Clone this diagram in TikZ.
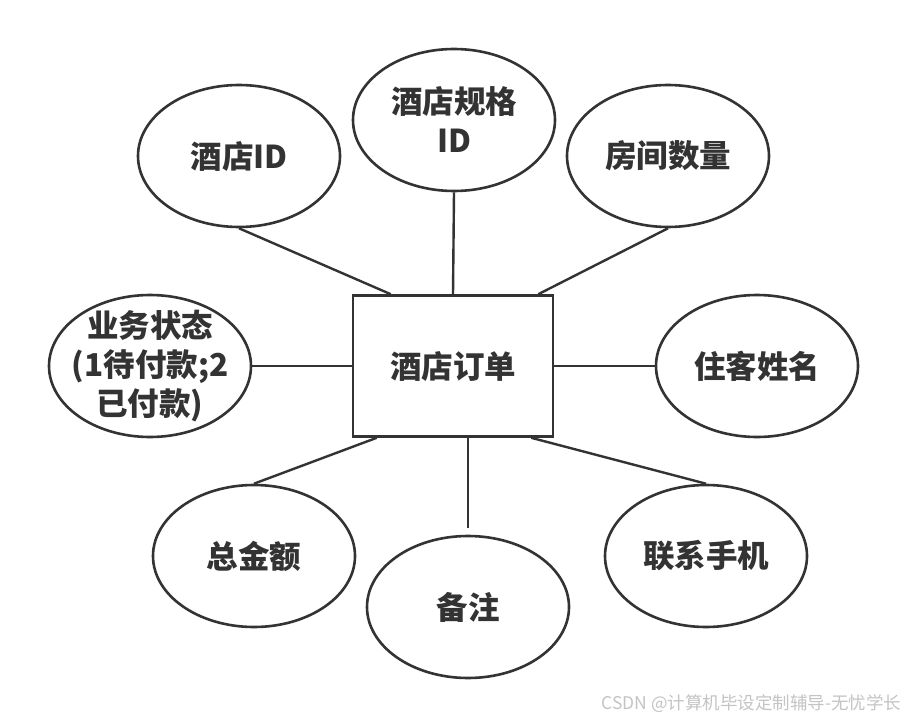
\documentclass[tikz,border=0pt]{standalone}
\usepackage{fontspec}
\newfontfamily\cjk{Noto Sans CJK SC}
\usetikzlibrary{shapes.geometric,positioning}
\definecolor{ink}{HTML}{333333}
\definecolor{mark}{HTML}{C4C4C4}

\begin{document}
\begin{tikzpicture}[
    x=1pt, y=-1pt,
    entity/.style={draw=ink, line width=2.6pt, minimum width=200pt, minimum height=141pt,
                   font=\cjk\bfseries\fontsize{31.5}{39}\selectfont, text=ink, align=center},
    attr/.style={ellipse, draw=ink, line width=2.6pt, minimum width=202pt, minimum height=142pt,
                 inner sep=0pt, font=\cjk\bfseries\fontsize{31.5}{39}\selectfont, text=ink, align=center},
    link/.style={draw=ink, line width=2.4pt}
  ]
    \useasboundingbox[fill=white] (0,0) rectangle (908,728);

    \node[entity] (order) at (453,366) {酒店订单};

    \node[attr] (hid)    at (239,156) {酒店ID};
    \node[attr] (spec)   at (454,120) {酒店规格\\ID};
    \node[attr] (rooms)  at (668,156) {房间数量};
    \node[attr, inner sep=-16pt] (status) at (150,366) {业务状态\\(1待付款;2\\已付款)};
    \node[attr] (guest)  at (757,366) {住客姓名};
    \node[attr] (total)  at (254,556) {总金额};
    \node[attr] (note)   at (468,607) {备注};
    \node[attr] (phone)  at (706,556) {联系手机};

    \draw[link] (hid.south)   -- ([xshift=39pt]order.north west);
    \draw[link] (spec.south)  -- (order.north);
    \draw[link] (rooms.south) -- ([xshift=-16pt]order.north east);
    \draw[link] (status.east) -- (order.west);
    \draw[link] (order.east)  -- (guest.west);
    \draw[link] (total.north) -- ([xshift=25pt]order.south west);
    \draw[link] ([xshift=15pt]order.south) -- ([yshift=7pt]note.north);
    \draw[link] (phone.north) -- ([xshift=-23pt]order.south east);

    \node[anchor=east, font=\cjk\fontsize{17.5}{19}\selectfont, text=mark] (wm) at (905,704)
      {CSDN @计算机毕设定制辅导-无忧学长};
  \end{tikzpicture}
\end{document}
